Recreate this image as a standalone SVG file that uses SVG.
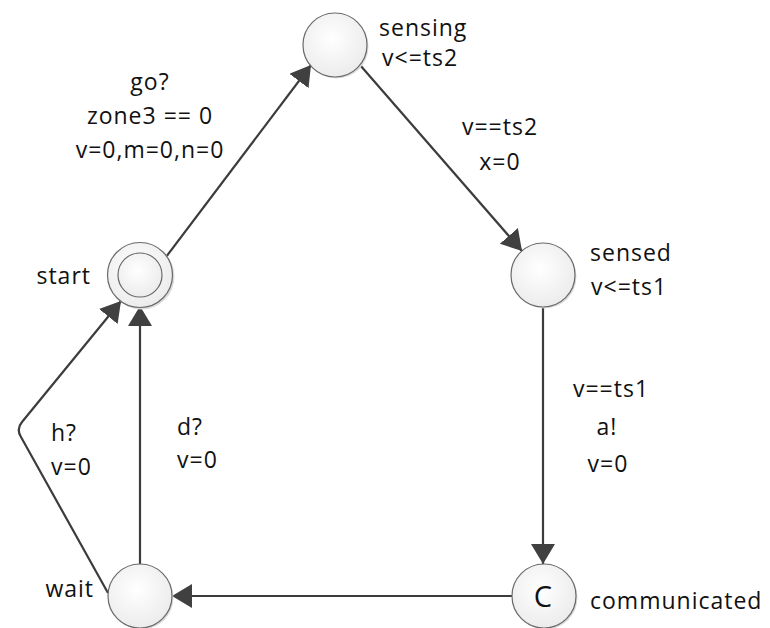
<svg xmlns="http://www.w3.org/2000/svg" width="770" height="628" viewBox="0 0 770 628">
<defs>
<radialGradient id="g" cx="0.45" cy="0.4" r="0.6">
<stop offset="0" stop-color="#ffffff"/>
<stop offset="1" stop-color="#ececec"/>
</radialGradient>
<marker id="ah" markerUnits="userSpaceOnUse" markerWidth="22" markerHeight="26" refX="20" refY="12" orient="auto">
<path d="M0,0 L20,12 L0,24 Z" fill="#404040"/>
</marker>
<style>
.n{fill:url(#g);stroke:#6a6a6a;stroke-width:1.2}
.sh{fill:#dcdcdc}
.e{fill:none;stroke:#3c3c3c;stroke-width:2.2;marker-end:url(#ah)}
text{font-family:"Open Sans","Liberation Sans",sans-serif;font-size:23px;letter-spacing:1px;fill:#111}
.m{text-anchor:middle}
.r{text-anchor:end}
</style>
</defs>
<rect width="770" height="628" fill="#ffffff"/>
<g id="connectors">
<path class="e" d="M166,257 L311,65"/>
<path class="e" d="M360,65 L522,251"/>
<path class="e" d="M543,307 L543,564"/>
<path class="e" d="M512,596 L172,596"/>
<path class="e" d="M140,564 L140,306"/>
<path class="e" d="M108,593 L21,437 Q16,429 22,422 L121,301"/>
</g>
<g id="start">
<circle class="sh" cx="141.5" cy="276.5" r="33"/>
<circle class="n" cx="140" cy="275" r="32.5"/>
<circle class="n" cx="140" cy="275" r="22"/>
<text class="r" x="91" y="284">start</text>
</g>
<g id="sensing">
<circle class="sh" cx="336.5" cy="46.5" r="32"/>
<circle class="n" cx="335" cy="45" r="32"/>
<text x="379" y="36">sensing</text>
<text x="382" y="66">v&lt;=ts2</text>
</g>
<g id="sensed">
<circle class="sh" cx="544.5" cy="276.5" r="32"/>
<circle class="n" cx="543" cy="275" r="32"/>
<text x="590" y="261">sensed</text>
<text x="591" y="295">v&lt;=ts1</text>
</g>
<g id="communicated">
<circle class="sh" cx="545.5" cy="597.5" r="32"/>
<circle class="n" cx="544" cy="596" r="32"/>
<text class="m" x="543" y="607" style="font-size:29px;letter-spacing:0">C</text>
<text x="590" y="609">communicated</text>
</g>
<g id="wait">
<circle class="sh" cx="141.5" cy="597.5" r="32"/>
<circle class="n" cx="140" cy="596" r="32"/>
<text class="r" x="94" y="597">wait</text>
</g>
<g id="labels">
<text class="m" x="150" y="90">go?</text>
<text class="m" x="150" y="124">zone3 == 0</text>
<text class="m" x="150" y="158">v=0,m=0,n=0</text>
<text class="m" x="500" y="135">v==ts2</text>
<text class="m" x="500" y="170">x=0</text>
<text class="m" x="611" y="397">v==ts1</text>
<text class="m" x="607" y="435">a!</text>
<text class="m" x="608" y="472">v=0</text>
<text x="51" y="441">h?</text>
<text x="51" y="475">v=0</text>
<text x="177" y="435">d?</text>
<text x="177" y="468">v=0</text>
</g>
</svg>
